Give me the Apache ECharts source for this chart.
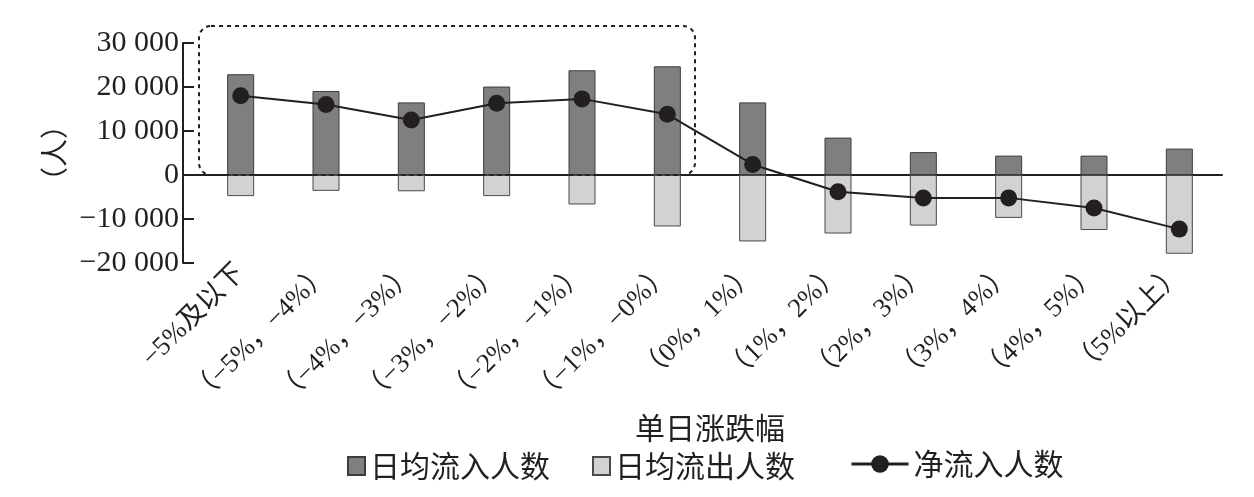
<!DOCTYPE html>
<html>
<head>
<meta charset="utf-8">
<script src="https://cdn.jsdelivr.net/npm/echarts@6/dist/echarts.min.js"></script>
<style>
html, body { margin: 0; padding: 0; background: #fff; }
#main { width: 1254px; height: 497px; }
</style>
</head>
<body>
<div id="main"></div>
<script>
// 数据
var categories = ['−5%及以下', '（−5%，−4%）', '（−4%，−3%）', '（−3%，−2%）', '（−2%，−1%）', '（−1%，−0%）',
    '（0%，1%）', '（1%，2%）', '（2%，3%）', '（3%，4%）', '（4%，5%）', '（5%以上）'];
var inflow = [22900, 19100, 16500, 20100, 23800, 24700, 16500, 8500, 5200, 4400, 4400, 6000];
var outflow = [-4800, -3600, -3700, -4800, -6700, -11700, -15100, -13300, -11500, -9750, -12500, -17900];
var netflow = [18000, 16000, 12500, 16300, 17300, 13800, 2400, -3800, -5250, -5200, -7500, -12300];
var yTicks = [-20000, -10000, 0, 10000, 20000, 30000];

var serif = '"Liberation Serif", "Noto Sans CJK SC", serif';
var cjk = '"Noto Sans CJK SC", sans-serif';

function fmt(v) {
    var s = String(Math.abs(v)).replace(/\B(?=(\d{3})+(?!\d))/g, ' ');
    return v < 0 ? '−' + s : s;
}

var myChart = echarts.init(document.getElementById('main'));

var option = {
    animation: false,
    grid: { left: 198, right: 32, top: 43, bottom: 234 },
    legend: [{
        data: ['日均流入人数', '日均流出人数'],
        left: 342, top: 446,
        icon: 'rect',
        itemWidth: 17, itemHeight: 18, itemGap: 42,
        textStyle: { fontSize: 30, color: '#231f20', fontFamily: cjk }
    }, {
        data: ['净流入人数'],
        left: 845, top: 444,
        itemWidth: 57, itemHeight: 22,
        lineStyle: { width: 3 },
        textStyle: { fontSize: 30, color: '#231f20', fontFamily: cjk }
    }],
    xAxis: [{
        type: 'category',
        data: categories,
        axisLine: { onZero: true, lineStyle: { color: '#231f20', width: 2 } },
        axisTick: { inside: true, length: 11, lineStyle: { color: '#231f20', width: 2 } },
        axisLabel: { show: false }
    }, {
        type: 'category',
        data: categories,
        position: 'bottom',
        axisLine: { show: false, onZero: false },
        axisTick: { show: false },
        axisLabel: { rotate: 45, margin: 6, fontSize: 27, color: '#231f20', fontFamily: serif, interval: 0 },
        name: '单日涨跌幅',
        nameLocation: 'middle',
        nameGap: 150,
        nameTextStyle: { fontSize: 30, color: '#231f20', fontFamily: cjk }
    }],
    yAxis: {
        type: 'value',
        min: -20000, max: 30000, interval: 10000,
        offset: 15,
        name: '（人）',
        nameLocation: 'middle',
        nameRotate: 90,
        nameGap: 112,
        nameTextStyle: { fontSize: 28, color: '#231f20', fontFamily: cjk },
        axisLine: { show: true, lineStyle: { color: '#231f20', width: 2 } },
        axisTick: { show: true, inside: true, length: 11, lineStyle: { color: '#231f20', width: 2 } },
        axisLabel: { margin: 4, fontSize: 30, color: '#231f20', fontFamily: serif, formatter: fmt },
        splitLine: { show: false }
    },
    series: [{
        name: '日均流入人数',
        type: 'bar',
        stack: 'flow',
        barWidth: 27,
        data: inflow,
        itemStyle: { color: '#7f7f80', borderColor: '#3c3c3c', borderWidth: 1 }
    }, {
        name: '日均流出人数',
        type: 'bar',
        stack: 'flow',
        barWidth: 27,
        data: outflow,
        itemStyle: { color: '#d1d2d4', borderColor: '#4a4a4a', borderWidth: 1 }
    }, {
        name: '净流入人数',
        type: 'line',
        data: netflow,
        symbol: 'circle',
        symbolSize: 17,
        z: 5,
        lineStyle: { color: '#231f20', width: 2 },
        itemStyle: { color: '#231f20' }
    }]
};

myChart.setOption(option);

// 虚线框和零线向左延伸
var y0 = myChart.convertToPixel({ yAxisIndex: 0 }, 0);
var x0 = myChart.convertToPixel({ xAxisIndex: 0 }, 0);
var x5 = myChart.convertToPixel({ xAxisIndex: 0 }, 5);
var band = myChart.convertToPixel({ xAxisIndex: 0 }, 1) - x0;
myChart.setOption({
    graphic: [{
        type: 'rect',
        shape: { x: x0 - band / 2 + 1, y: 26, width: (x5 - x0) + band - 16, height: y0 - 26, r: 12 },
        style: { fill: 'none', stroke: '#231f20', lineWidth: 2, lineDash: [4, 4] },
        z: 10
    }, {
        type: 'line',
        shape: { x1: 183, y1: y0, x2: 199, y2: y0 },
        style: { stroke: '#231f20', lineWidth: 2 },
        z: 10
    }]
});
</script>
</body>
</html>
